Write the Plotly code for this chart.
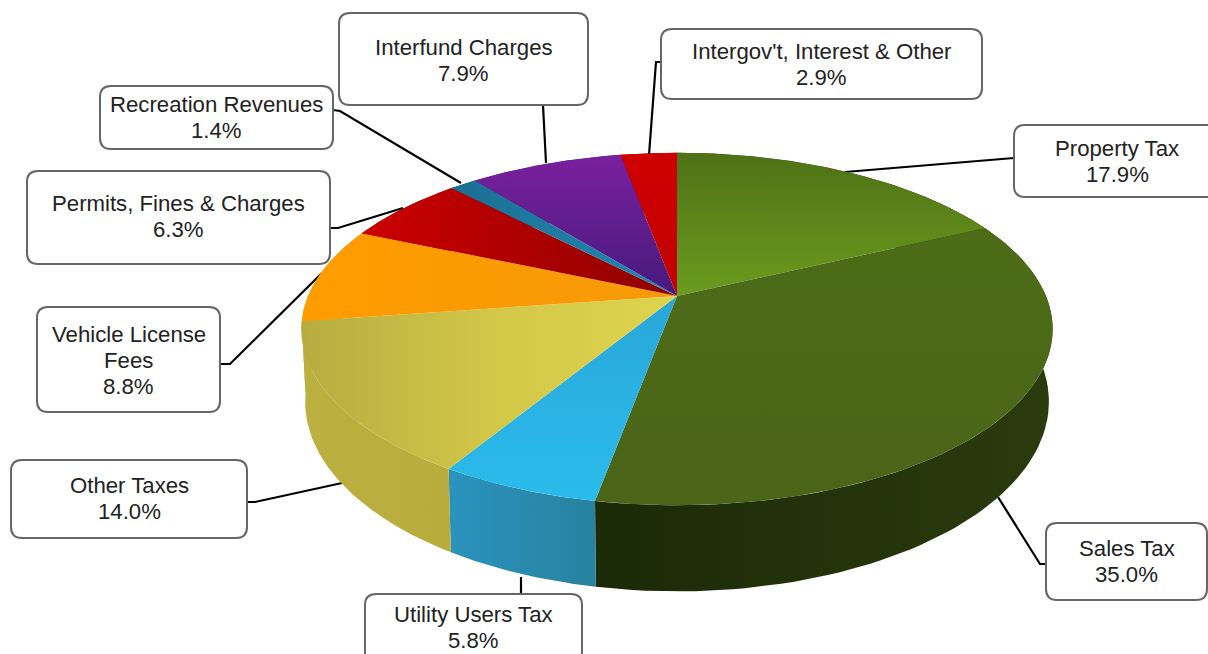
import numpy as np
import plotly.graph_objects as go

# Revenue shares, clockwise from twelve o'clock
categories = ["Property Tax", "Sales Tax", "Utility Users Tax", "Other Taxes",
              "Vehicle License Fees", "Permits, Fines & Charges",
              "Recreation Revenues", "Interfund Charges",
              "Intergov't, Interest & Other"]
shares = [17.9, 35.0, 5.8, 14.0, 8.8, 6.3, 1.4, 7.9, 2.9]

# Wrapped name lines for the callouts
label_lines = [["Property Tax"], ["Sales Tax"], ["Utility Users Tax"], ["Other Taxes"],
               ["Vehicle License", "Fees"], ["Permits, Fines & Charges"],
               ["Recreation Revenues"], ["Interfund Charges"],
               ["Intergov't, Interest & Other"]]

# Top-face fill: gradient direction and colour stops
top_direction = ["vertical", "vertical", "vertical", "horizontal", "horizontal",
                 "horizontal", "horizontal", "vertical", "vertical"]
top_colors = [("#4e7116", "#6b9c1e"), ("#4c6c17", "#4a6418"), ("#2aa6d8", "#2abcec"),
              ("#b7ac40", "#d2c748", "#dfd44e"), ("#ff9c00", "#f59a08"), ("#cc0000", "#8e0000"),
              ("#1d6e92", "#2088b4"), ("#7a209e", "#451a7c"), ("#d00000", "#c00000")]
# Side-wall fill, left to right; the far-left wall continues the Other Taxes tone
side_colors = [("#2d3f0c", "#2d3f0c"), ("#1b2a07", "#2b3b0d"), ("#2a93bd", "#28829f"),
               ("#bcb040", "#b8ac3c"), ("#bcb040", "#bcb040"), ("#8a0000", "#8a0000"),
               ("#145068", "#145068"), ("#4a1670", "#4a1670"), ("#8a0000", "#8a0000")]

# Callout boxes: left, right, top, bottom
boxes = [(1014, 1220, 125, 197), (1046, 1207, 523, 600), (365, 582, 594, 664),
         (11, 247, 460, 538), (37, 220, 307, 412), (27, 330, 171, 264),
         (100, 333, 86, 149), (339, 588, 13, 105), (661, 982, 29, 99)]
# Leader polylines from the pie rim to each box
leaders_x = [[845, 1014], [998, 1040, 1046], [521, 521], [342, 255, 247],
             [322, 230, 220], [403, 338, 330], [461, 340, 333], [546, 543],
             [649, 656, 661]]
leaders_y = [[172, 158], [497, 564, 564], [577, 594], [483, 502, 502],
             [273, 364, 364], [208, 228, 228], [183, 111, 110], [163, 105],
             [155, 62, 62]]
# Vertical centre of the first text line of each callout
text_top = [148, 548, 614, 485, 334, 203, 104, 47, 51]
LINE_STEP = 26

# Perspective projection of the unit disc onto the page
CX, CY = 677.0, 296.0
RX, RY = 369.0, 170.0
TILT = 0.1875
DEPTH = 70.0
BOTTOM_SHRINK = 0.99


def rim(theta, drop=0.0, shrink=1.0):
    u, v = np.sin(theta), -np.cos(theta)
    w = 1 - TILT * v
    return CX + shrink * RX * u / w, CY + (RY * v + drop) / w


def gradient(kind, colors, xs, ys):
    span = xs if kind == "horizontal" else ys
    stops = np.linspace(0, 1, len(colors))
    return dict(type=kind, start=float(np.min(span)), stop=float(np.max(span)),
                colorscale=[[float(s), c] for s, c in zip(stops, colors)])


def rounded_box(l, r, t, b, c=11):
    return (f"M{l + c},{t} L{r - c},{t} Q{r},{t} {r},{t + c} L{r},{b - c} Q{r},{b} {r - c},{b} "
            f"L{l + c},{b} Q{l},{b} {l},{b - c} L{l},{t + c} Q{l},{t} {l + c},{t} Z")


edges = np.concatenate([[0.0], np.cumsum(shares)]) / sum(shares) * 2 * np.pi
fig = go.Figure()

# Leader lines sit behind the pie
for lx, ly in zip(leaders_x, leaders_y):
    fig.add_trace(go.Scatter(x=lx, y=ly, mode="lines",
                             line=dict(color="#000000", width=2.2), hoverinfo="skip"))

# Side walls first, so the top face covers the hidden back part
for i, name in enumerate(categories):
    th = np.linspace(edges[i], edges[i + 1], 80)
    x1, y1 = rim(th)
    x2, y2 = rim(th, DEPTH, BOTTOM_SHRINK)
    xs = np.concatenate([x1, x2[::-1]])
    ys = np.concatenate([y1, y2[::-1]])
    fig.add_trace(go.Scatter(x=xs, y=ys, mode="lines", fill="toself", name=name,
                             line=dict(width=0), hoverinfo="skip",
                             fillgradient=gradient("horizontal", side_colors[i], xs, ys)))

# Top face wedges
for i, name in enumerate(categories):
    th = np.linspace(edges[i], edges[i + 1], 120)
    x1, y1 = rim(th)
    xs = np.concatenate([[CX], x1, [CX]])
    ys = np.concatenate([[CY], y1, [CY]])
    fig.add_trace(go.Scatter(x=xs, y=ys, mode="lines", fill="toself", name=name,
                             line=dict(width=0), hoverinfo="skip",
                             fillgradient=gradient(top_direction[i], top_colors[i], xs, ys)))

shapes = [dict(type="path", path=rounded_box(*b), xref="x", yref="y", layer="above",
               fillcolor="#ffffff", line=dict(color="#666666", width=2)) for b in boxes]

annotations = []
for i, b in enumerate(boxes):
    lines = label_lines[i] + [f"{shares[i]:.1f}%"]
    mid = (b[0] + b[1]) / 2
    for j, text in enumerate(lines):
        annotations.append(dict(x=mid, y=text_top[i] + j * LINE_STEP, text=text,
                                xref="x", yref="y", showarrow=False,
                                xanchor="center", yanchor="middle",
                                font=dict(family="Liberation Sans", size=22.2, color="#222222")))

fig.update_layout(
    width=1208, height=654, margin=dict(l=0, r=0, t=0, b=0),
    paper_bgcolor="#ffffff", plot_bgcolor="#ffffff", showlegend=False,
    shapes=shapes, annotations=annotations,
    xaxis=dict(range=[0, 1208], visible=False, fixedrange=True),
    yaxis=dict(range=[654, 0], visible=False, fixedrange=True),
)
fig.write_html("out.html", config=dict(displayModeBar=False))
